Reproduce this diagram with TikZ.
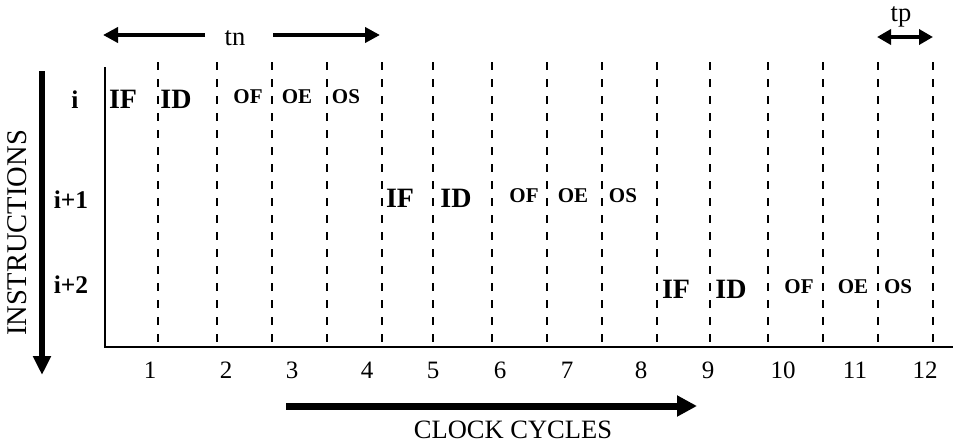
\documentclass[tikz,border=0pt]{standalone}
\usepackage{fontspec}
\setmainfont{Liberation Serif}
\usetikzlibrary{arrows.meta}
\begin{document}
\begin{tikzpicture}[x=1pt,y=-1pt,
  big/.style={font=\fontsize{28}{28}\selectfont\bfseries, anchor=base, inner sep=0pt},
  small/.style={font=\fontsize{21}{21}\selectfont\bfseries, anchor=base, inner sep=0pt},
  rowlbl/.style={font=\fontsize{25.5}{25.5}\selectfont\bfseries, anchor=base, inner sep=0pt},
  num/.style={font=\fontsize{25}{25}\selectfont, anchor=base, inner sep=0pt},
  lbl/.style={font=\fontsize{26.5}{26.5}\selectfont, anchor=base, inner sep=0pt},
  grid/.style={line width=2.4pt, dash pattern=on 8pt off 9pt},
  axis/.style={line width=2pt},
  fat/.style={line width=7pt, -{Triangle[length=20pt,width=20pt]}},
  mid/.style={line width=4pt},
  tip/.style={-{Triangle[length=15pt,width=15pt]}}
]
\useasboundingbox (0,0) rectangle (954,445);

% axes
\coordinate (axtop) at (105,67);
\coordinate (orig) at (105,347);
\coordinate (axend) at (953,347);
\draw[axis] (axtop) -- (orig) -- (axend);

% dashed lines
\foreach \x [count=\k] in {158,217,272,327,382,433,492,547,602,657,710,768,823,878,933}{
  \coordinate (gt\k) at (\x,62);
  \coordinate (gb\k) at (\x,346);
  \draw[grid] (gt\k) -- (gb\k);
}

% row labels
\node[rowlbl] (ri)  at (75,108) {i};
\node[rowlbl] (ri1) at (71,208) {i+1};
\node[rowlbl] (ri2) at (71,293) {i+2};

% row 1
\node[big] (a1) at (123,108) {IF};
\node[big] (a2) at (176,108) {ID};
\node[small] (a3) at (248,103) {OF};
\node[small] (a4) at (297,103) {OE};
\node[small] (a5) at (346,103) {OS};
% row 2
\node[big] (b1) at (400,207) {IF};
\node[big] (b2) at (456,207) {ID};
\node[small] (b3) at (524,202) {OF};
\node[small] (b4) at (573,202) {OE};
\node[small] (b5) at (623,202) {OS};
% row 3
\node[big] (c1) at (676,298) {IF};
\node[big] (c2) at (731,298) {ID};
\node[small] (c3) at (799,293) {OF};
\node[small] (c4) at (853,293) {OE};
\node[small] (c5) at (898,293) {OS};

% clock numbers
\foreach \x [count=\k] in {150,226,292,367,433,500,567,641,708,783,855,925}{
  \node[num] (n\k) at (\x,378) {\k};
}

% clock cycles arrow
\coordinate (ccs) at (286,406);
\coordinate (cce) at (697,406);
\draw[fat] (ccs) -- (cce);
\node[lbl] (cc) at (513,438) {CLOCK CYCLES};

% instructions arrow
\coordinate (ins) at (42,71);
\coordinate (ine) at (42,375);
\draw[line width=6pt, -{Triangle[length=19pt,width=17pt]}] (ins) -- (ine);
\node[font=\fontsize{28.5}{28.5}\selectfont, rotate=90, inner sep=0pt] (instr) at (17,233) {INSTRUCTIONS};

% tn
\node[lbl] (tn) at (235,45) {tn};
\coordinate (tnl) at (103,35);
\coordinate (tnr) at (380,35);
\draw[mid,tip] (205,35) -- (tnl);
\draw[mid,tip] (273,35) -- (tnr);

% tp
\node[lbl] (tp) at (901,21) {tp};
\coordinate (tpl) at (877,37);
\coordinate (tpr) at (933,37);
\draw[mid,{Triangle[length=14pt,width=15pt]}-{Triangle[length=14pt,width=15pt]}] (tpl) -- (tpr);
\end{tikzpicture}
\end{document}
